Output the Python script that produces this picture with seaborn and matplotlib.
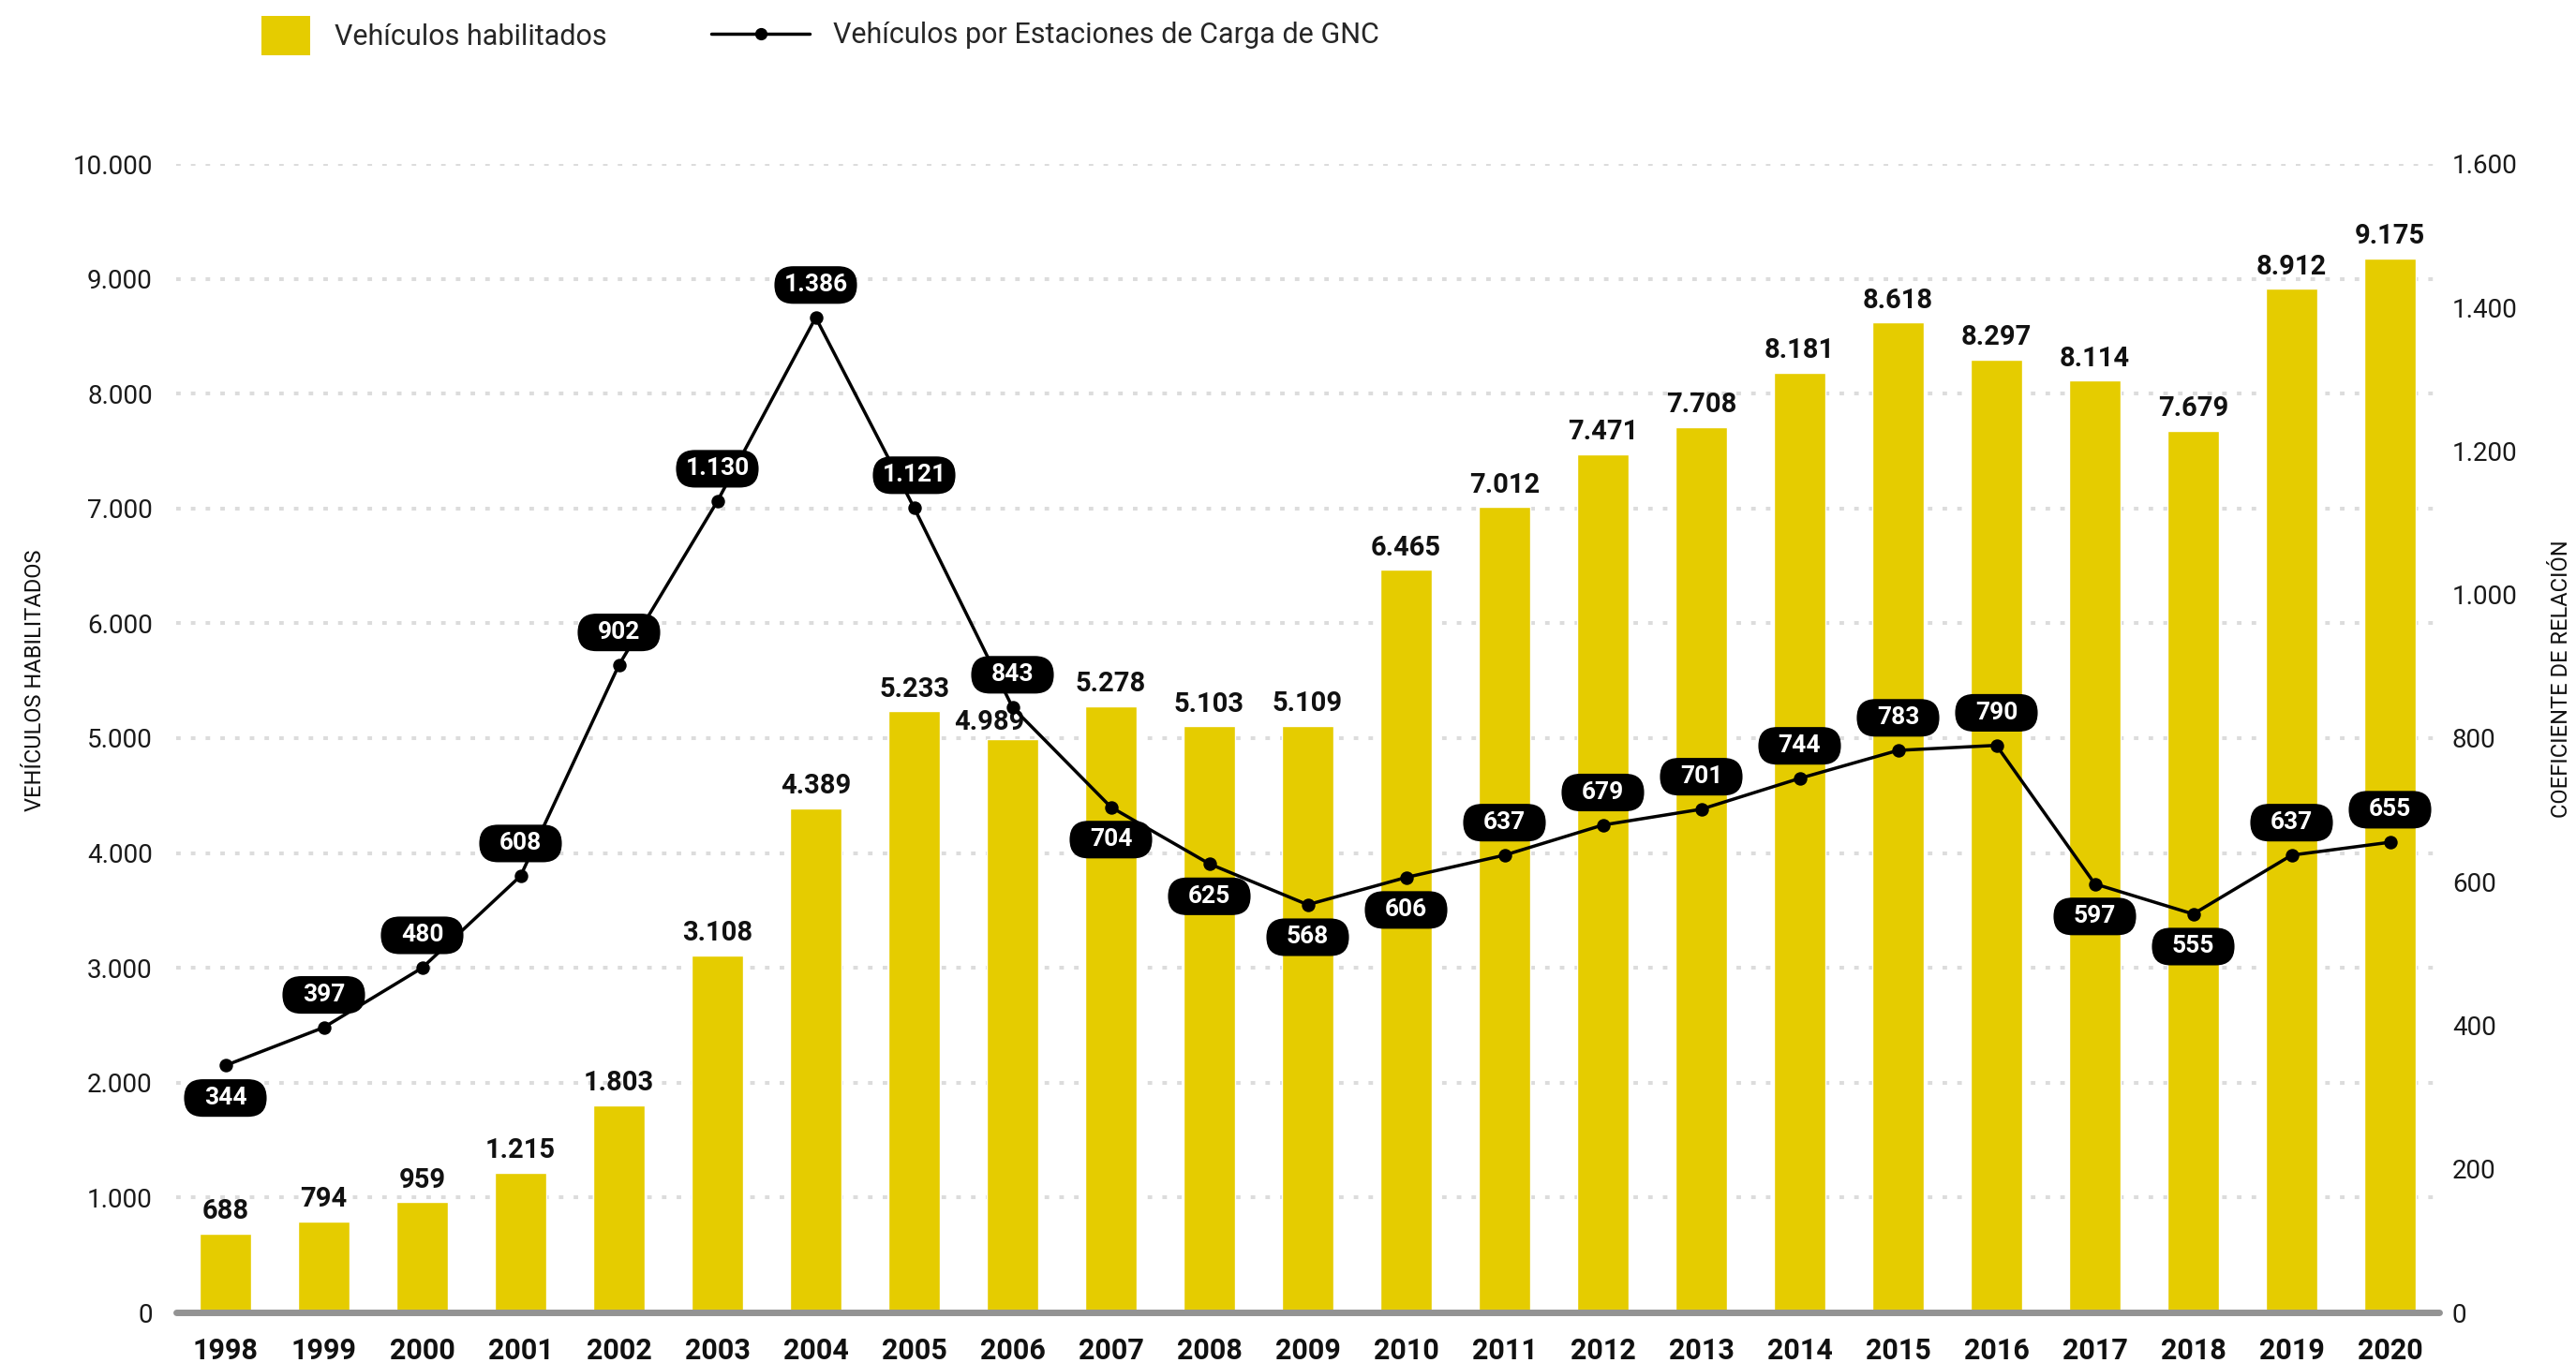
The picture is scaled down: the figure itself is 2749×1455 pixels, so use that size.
import matplotlib
matplotlib.use("Agg")
import matplotlib.pyplot as plt
import seaborn as sns
from matplotlib.patches import Patch, BoxStyle
from matplotlib.lines import Line2D
from matplotlib.ticker import FixedLocator

# ---------------- data ----------------
years = [str(y) for y in range(1998, 2021)]
vehiculos = [688, 794, 959, 1215, 1803, 3108, 4389, 5233, 4989, 5278, 5103, 5109,
             6465, 7012, 7471, 7708, 8181, 8618, 8297, 8114, 7679, 8912, 9175]
coeficiente = [344, 397, 480, 608, 902, 1130, 1386, 1121, 843, 704, 625, 568,
               606, 637, 679, 701, 744, 783, 790, 597, 555, 637, 655]
label_above = [False, True, True, True, True, True, True, True, True, False, False, False,
               False, True, True, True, True, True, True, False, False, True, True]
left_ticks = list(range(0, 10001, 1000))
right_ticks = list(range(0, 1601, 200))

YELLOW = "#E5CC00"
GRID = "#DCDCDC"
BASE = "#939393"


def fmt(v):
    return f"{v:,}".replace(",", ".")


sns.set_theme(style="white")
FONT = ["Roboto", "DejaVu Sans"]
plt.rcParams["font.family"] = FONT

W, H = 2749, 1455
fig = plt.figure(figsize=(W / 100, H / 100), dpi=100)
ax_l, ax_r, ax_t, ax_b = 188, 2603, 175, 1401
ax = fig.add_axes([ax_l / W, 1 - ax_b / H, (ax_r - ax_l) / W, (ax_b - ax_t) / H])

sns.barplot(x=years, y=vehiculos, color=YELLOW, saturation=1, width=0.53, ax=ax, zorder=2)
ax.set_ylim(0, 10000)
ax.set_axisbelow(True)
ax.yaxis.set_major_locator(FixedLocator(left_ticks))
ax.set_yticklabels([fmt(v) for v in left_ticks])
ax.yaxis.grid(True, color=GRID, linestyle=(0, (1.2, 2.7)), linewidth=2.9)
ax.xaxis.grid(False)
for s in ax.spines.values():
    s.set_visible(False)
ax.tick_params(axis="y", length=0, pad=18, labelsize=20, labelcolor="#1a1a1a")
ax.tick_params(axis="x", length=0, pad=19)
for t in ax.get_xticklabels():
    t.set_fontweight("bold")
    t.set_fontsize(22)
    t.set_color("#111111")
ax.set_xlabel("")
ax.set_ylabel("VEHÍCULOS HABILITADOS", fontsize=17, color="#111111")
ax.yaxis.set_label_coords((49 - ax_l) / (ax_r - ax_l), 0.55)

ax.axhline(0, color=BASE, lw=5, zorder=3, clip_on=False)

bar_texts = ax.bar_label(ax.containers[0], labels=[fmt(v) for v in vehiculos], padding=7,
                         fontweight="bold", fontsize=21, color="#111111")
# the 2006 label is nudged left in the original to clear the line
bar_texts[years.index("2006")].xyann = (-18, 3)

# ---------------- line on secondary axis ----------------
ax2 = ax.twinx()
sns.pointplot(x=years, y=coeficiente, ax=ax2, color="black", markers="o",
              errorbar=None, linewidth=2.5, markersize=8.5)
ax2.set_ylim(0, 1600)
ax2.yaxis.set_major_locator(FixedLocator(right_ticks))
ax2.set_yticklabels([fmt(v) for v in right_ticks])
ax2.tick_params(axis="y", length=0, pad=10, labelsize=20, labelcolor="#1a1a1a")
ax2.grid(False)
for s in ax2.spines.values():
    s.set_visible(False)
ax2.set_ylabel("COEFICIENTE DE RELACIÓN", fontsize=17, color="#111111")
ax2.yaxis.set_label_coords((2722 - ax_l) / (ax_r - ax_l), 0.552)
ax.set_xlim(-0.5, len(years) - 0.5)


class Pill:
    def __init__(self, w, h):
        self.w, self.h = w, h

    def __call__(self, x0, y0, width, height, mutation_size):
        bw = self.w * mutation_size
        bh = self.h * mutation_size
        cx = x0 + width / 2
        cy = y0 + height / 2
        rs = (bh / 2) / mutation_size
        return BoxStyle.Round(pad=0, rounding_size=rs)(cx - bw / 2, cy - bh / 2, bw, bh, mutation_size)


for i, (v, up) in enumerate(zip(coeficiente, label_above)):
    ax2.annotate(fmt(v), xy=(i, v), xytext=(0, 25 if up else -25), textcoords="offset points",
                 ha="center", va="center", color="white", fontsize=19, fontweight="bold",
                 zorder=10,
                 bbox=dict(boxstyle=Pill(3.34, 1.52), fc="black", ec="none"))

# ---------------- legend ----------------
h1 = Patch(facecolor=YELLOW, edgecolor="none", label="Vehículos habilitados")
leg1 = fig.legend(handles=[h1], loc="center left", bbox_to_anchor=(279 / W, 1 - 38 / H),
                  frameon=False, prop=dict(size=22),
                  handlelength=1.7, handleheight=1.7, handletextpad=0.85,
                  borderpad=0, borderaxespad=0)
h2 = Line2D([], [], color="black", lw=2.5, marker="o", markersize=8.5,
            label="Vehículos por Estaciones de Carga de GNC")
leg2 = fig.legend(handles=[h2], loc="center left", bbox_to_anchor=(759 / W, 1 - 38 / H),
                  frameon=False, prop=dict(size=22),
                  handlelength=3.45, handletextpad=0.8, borderpad=0, borderaxespad=0)

fig.savefig("out.png", dpi=100)
